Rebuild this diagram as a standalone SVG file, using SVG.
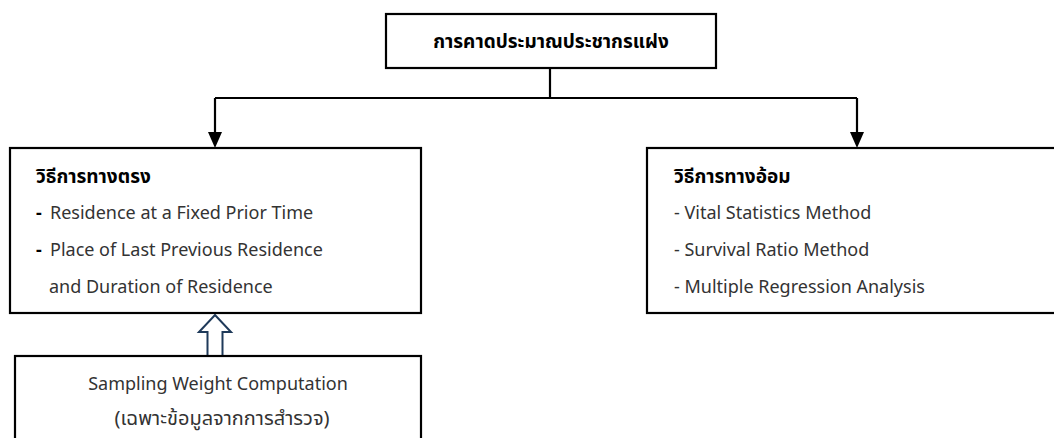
<svg xmlns="http://www.w3.org/2000/svg" width="1054" height="438" viewBox="0 0 1054 438">
<defs>
<style>
.box{fill:#fff;stroke:#000;stroke-width:2.2}
.ln{fill:none;stroke:#000;stroke-width:2.2}
.h{font-family:"Noto Sans","Noto Sans Thai",Tahoma,sans-serif;font-size:19px;font-weight:bold;fill:#000}
.t{font-family:"Noto Sans","Noto Sans Thai",Tahoma,sans-serif;font-size:18px;fill:#333}
.th{font-family:"Noto Sans","Noto Sans Thai",Tahoma,sans-serif;font-size:20px;fill:#333}
.d{font-family:"Noto Sans",sans-serif;font-size:18px;font-weight:bold;fill:#000}
</style>
</defs>
<rect width="1054" height="438" fill="#fff"/>
<g id="connectors">
<path class="ln" d="M550,68 V98"/>
<path class="ln" d="M215,98 H857"/>
<path d="M215,98 V132" class="ln"/>
<path d="M208,132 L222,132 L215,148 Z" fill="#000"/>
<path d="M857,98 V132" class="ln"/>
<path d="M850,132 L864,132 L857,148 Z" fill="#000"/>
<path d="M207.5,356 V332 H199 L215,315 L231,332 H222.5 V356" fill="#fff" stroke="#1f3a5a" stroke-width="2"/>
</g>
<g id="node-top">
<rect class="box" x="386" y="14" width="330" height="54"/>
<text class="h" x="551" y="48" text-anchor="middle">การคาดประมาณประชากรแฝง</text>
</g>
<g id="node-direct">
<rect class="box" x="10" y="148" width="411" height="165"/>
<text class="h" x="36" y="183">วิธีการทางตรง</text>
<text class="d" x="36" y="219">-</text>
<text class="t" x="50" y="219">Residence at a Fixed Prior Time</text>
<text class="d" x="36" y="256">-</text>
<text class="t" x="50" y="256">Place of Last Previous Residence</text>
<text class="t" x="49" y="293">and Duration of Residence</text>
</g>
<g id="node-indirect">
<rect class="box" x="647" y="148" width="420" height="165"/>
<text class="h" x="674" y="183">วิธีการทางอ้อม</text>
<text class="t" x="674" y="219">- Vital Statistics Method</text>
<text class="t" x="674" y="256">- Survival Ratio Method</text>
<text class="t" x="674" y="293">- Multiple Regression Analysis</text>
</g>
<g id="node-sampling">
<rect class="box" x="15" y="356" width="406" height="100"/>
<text class="t" x="218" y="390" text-anchor="middle">Sampling Weight Computation</text>
<text class="th" x="222" y="425" text-anchor="middle">(เฉพาะข้อมูลจากการสำรวจ)</text>
</g>
</svg>
